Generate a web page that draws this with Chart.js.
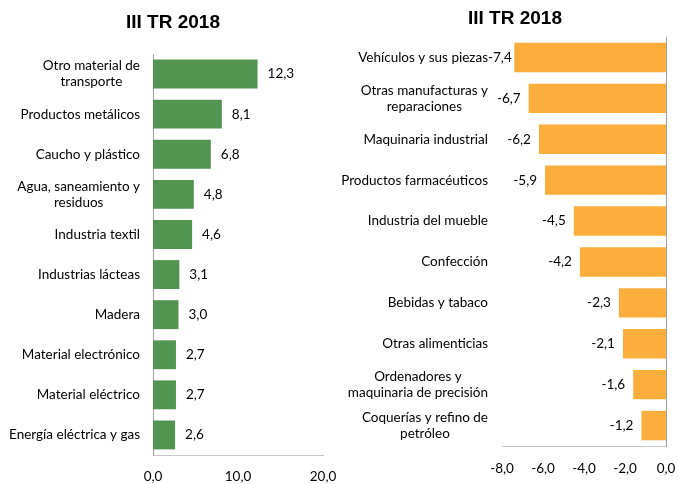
<!DOCTYPE html>
<html>
<head>
<meta charset="utf-8">
<script src="https://cdn.jsdelivr.net/npm/chart.js@4"></script>
<style>
  body { margin: 0; background: #fff; }
  #wrap { position: relative; width: 679px; height: 484px; overflow: hidden; }
  canvas { position: absolute; top: 0; }
  .title { position: absolute; font: bold 19px "Liberation Sans", Arial, sans-serif; color: #000; text-align: center; }
</style>
</head>
<body>
<div id="wrap">
  <canvas id="leftChart" width="340" height="484" style="left:0"></canvas>
  <canvas id="rightChart" width="339" height="484" style="left:340px"></canvas>
  <div class="title" style="left:73px;width:200px;top:11px">III TR 2018</div>
  <div class="title" style="left:415px;width:200px;top:7px">III TR 2018</div>
</div>
<script>
// left chart: growth
const leftLabels = ['Otro material de\ntransporte', 'Productos metálicos', 'Caucho y plástico',
  'Agua, saneamiento y\nresiduos', 'Industria textil', 'Industrias lácteas', 'Madera',
  'Material electrónico', 'Material eléctrico', 'Energía eléctrica y gas'];
const leftValues = [12.3, 8.1, 6.8, 4.8, 4.6, 3.1, 3.0, 2.7, 2.7, 2.6];
const leftTicks = [0, 10, 20];

// right chart: decline
const rightLabels = ['Vehículos y sus piezas', 'Otras manufacturas y\nreparaciones', 'Maquinaria industrial',
  'Productos farmacéuticos', 'Industria del mueble', 'Confección', 'Bebidas y tabaco',
  'Otras alimenticias', 'Ordenadores y\nmaquinaria de precisión', 'Coquerías y refino de\npetróleo'];
const rightValues = [-7.4, -6.7, -6.2, -5.9, -4.5, -4.2, -2.3, -2.1, -1.6, -1.2];
const rightTicks = [-8, -6, -4, -2, 0];

const FONT = 'Lato, "Open Sans", sans-serif';
const fmt = v => v.toFixed(1).replace('.', ',');

// category labels: block right aligned, lines centered (excel style)
const catLabels = {
  id: 'catLabels',
  afterDraw(chart, args, opts) {
    const ctx = chart.ctx;
    const yScale = chart.scales.y;
    ctx.save();
    ctx.font = '13.5px ' + FONT;
    ctx.fillStyle = '#000';
    ctx.textAlign = 'center';
    ctx.textBaseline = 'middle';
    opts.labels.forEach((lab, i) => {
      const lines = lab.split('\n');
      const w = Math.max(...lines.map(l => ctx.measureText(l).width));
      const cx = opts.right - w / 2;
      const y = yScale.getPixelForTick(i);
      const lh = 16;
      lines.forEach((l, k) => {
        ctx.fillText(l, cx, y + (k - (lines.length - 1) / 2) * lh);
      });
    });
    ctx.restore();
  }
};

// value labels at bar end (negatives never run into the category labels)
const valueLabels = {
  id: 'valueLabels',
  afterDatasetsDraw(chart, args, opts) {
    const ctx = chart.ctx;
    const meta = chart.getDatasetMeta(0);
    const data = chart.data.datasets[0].data;
    ctx.save();
    ctx.font = '13.5px ' + FONT;
    ctx.fillStyle = '#000';
    ctx.textBaseline = 'middle';
    meta.data.forEach((bar, i) => {
      const v = data[i];
      const txt = fmt(v);
      if (v >= 0) {
        ctx.textAlign = 'left';
        ctx.fillText(txt, bar.x + 10, bar.y);
      } else {
        ctx.textAlign = 'right';
        const w = ctx.measureText(txt).width;
        const x = Math.max(bar.x - 8, opts.minLeft + w);
        ctx.fillText(txt, x, bar.y);
      }
    });
    ctx.restore();
  }
};

function makeChart(id, labels, values, ticks, color, padding, yPos, tickPad, labelRight) {
  return new Chart(document.getElementById(id).getContext('2d'), {
    type: 'bar',
    data: {
      labels: labels,
      datasets: [{
        data: values,
        backgroundColor: color,
        borderWidth: 0,
        barPercentage: 0.72,
        categoryPercentage: 1
      }]
    },
    options: {
      indexAxis: 'y',
      responsive: false,
      animation: false,
      layout: { padding: padding },
      scales: {
        x: {
          min: ticks[0],
          max: ticks[ticks.length - 1],
          afterBuildTicks: s => { s.ticks = ticks.map(v => ({ value: v })); },
          afterFit: s => { s.height = 30; s.paddingLeft = 0; s.paddingRight = 0; },
          grid: { display: false, drawTicks: false },
          border: { display: true, color: '#c8c8c8', width: 1 },
          ticks: {
            padding: tickPad,
            color: '#000',
            font: { family: FONT, size: 13.5 },
            callback: v => fmt(v)
          }
        },
        y: {
          position: yPos,
          grid: { display: false, drawTicks: false },
          border: { display: true, color: '#a0a0a0', width: 1 },
          ticks: { display: false },
          afterFit: s => { s.width = 0; }
        }
      },
      plugins: {
        legend: { display: false },
        tooltip: { enabled: false },
        catLabels: { labels: labels, right: labelRight },
        valueLabels: { minLeft: labelRight }
      }
    },
    plugins: [catLabels, valueLabels]
  });
}

makeChart('leftChart', leftLabels, leftValues, leftTicks, '#519550',
  { left: 153, right: 340 - 323, top: 54, bottom: 484 - 455 - 30 }, 'left', 14, 140);
makeChart('rightChart', rightLabels, rightValues, rightTicks, '#FBAE3C',
  { left: 502 - 340, right: 339 - (666 - 340), top: 37, bottom: 484 - 446 - 30 }, 'right', 15, 488 - 340);
</script>
</body>
</html>
